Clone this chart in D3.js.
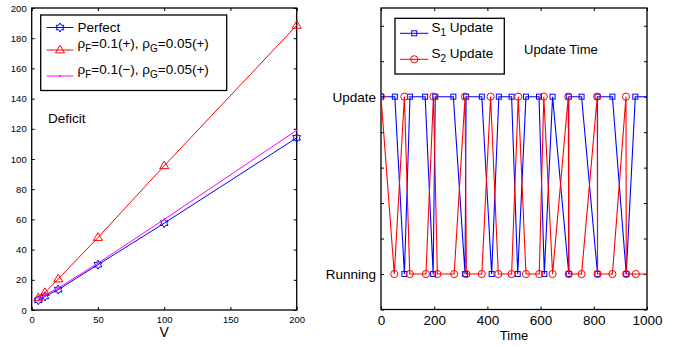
<!DOCTYPE html>
<html><head><meta charset="utf-8">
<script src="https://cdn.jsdelivr.net/npm/d3@7"></script>
<style>body{margin:0;background:#fff}svg{display:block}text{font-family:"Liberation Sans",Arial,Helvetica,sans-serif;fill:#000}</style>
</head><body><svg id="c" width="681" height="347"></svg>
<script>
// ---- Left chart data ----
const V = [5, 10, 20, 50, 100, 200];
const perfect = [6.5, 9, 13.5, 30, 57.5, 114];
const rhoPlus = [8, 11.5, 20.5, 48, 95.5, 188.5];
const rhoMinus = [7, 10, 14.5, 31, 60, 119];
const leftXTicks = [0, 50, 100, 150, 200];
const leftYTicks = [0, 20, 40, 60, 80, 100, 120, 140, 160, 180, 200];

// ---- Right chart data ----
const s1Time  = [0, 52, 88, 109, 166, 196, 204, 272, 316, 320, 379, 416, 443, 491, 514, 545, 594, 614, 645, 706, 706, 754, 814, 814, 870, 922, 956, 1040];
const s1State = [1, 1, 0, 1, 1, 0, 1, 1, 0, 1, 1, 0, 1, 1, 0, 1, 1, 0, 1, 0, 1, 1, 0, 1, 1, 0, 1, 1];
const s2Time  = [0, 50, 88, 108, 169, 197, 212, 275, 316, 321, 379, 412, 441, 491, 516, 545, 595, 612, 645, 704, 706, 754, 813, 814, 870, 921, 922, 958, 1040];
const s2State = [1, 0, 1, 0, 0, 1, 0, 0, 1, 0, 0, 1, 0, 0, 1, 0, 0, 1, 0, 1, 0, 0, 1, 0, 0, 1, 0, 0, 0];
const rightXTicks = [0, 200, 400, 600, 800, 1000];
const rightYTicks = [-0.2, 0, 0.2, 0.4, 0.6, 0.8, 1, 1.2, 1.4];
const stateLabels = {0: "Running", 1: "Update"};

const svg = d3.select("#c");
const BLUE = "#0000ff", RED = "#ff0000", MAG = "#ff00ff";

// hexagram path generator
function hexagram(r) {
  const pts = [];
  for (let i = 0; i < 12; i++) {
    const a = -Math.PI / 2 + i * Math.PI / 6;
    const rr = i % 2 === 0 ? r : r / Math.sqrt(3);
    pts.push([rr * Math.cos(a), rr * Math.sin(a)]);
  }
  return "M" + pts.map(p => p.join(",")).join("L") + "Z";
}
function triangle(r) {
  return `M0,${-r}L${r*0.95},${r*0.6}L${-r*0.95},${r*0.6}Z`;
}

// ================= LEFT =================
const xL = d3.scaleLinear().domain([0, 200]).range([31.7, 296.7]);
const yL = d3.scaleLinear().domain([0, 200]).range([310, 8]);
const gL = svg.append("g");

function boxAxes(g, x, y, xt, yt, fs, xfmt, yfmt, tl) {
  const [x0, x1] = x.range(), [y0, y1] = y.range();
  g.append("g").attr("transform", `translate(0,${y0})`)
    .call(d3.axisBottom(x).tickValues(xt).tickSize(-tl).tickPadding(6).tickFormat(xfmt))
    .call(a => { a.select(".domain").remove(); a.selectAll("text").attr("font-size", fs); });
  g.append("g").attr("transform", `translate(0,${y1})`)
    .call(d3.axisTop(x).tickValues(xt).tickSize(-tl).tickFormat(""))
    .call(a => a.select(".domain").remove());
  g.append("g").attr("transform", `translate(${x0},0)`)
    .call(d3.axisLeft(y).tickValues(yt).tickSize(-tl).tickPadding(5).tickFormat(yfmt))
    .call(a => { a.select(".domain").remove(); a.selectAll("text").attr("font-size", fs); });
  g.append("g").attr("transform", `translate(${x1},0)`)
    .call(d3.axisRight(y).tickValues(yt).tickSize(-tl).tickFormat(""))
    .call(a => a.select(".domain").remove());
  g.selectAll(".tick line").attr("stroke", "#000");
  g.append("rect").attr("x", x0).attr("y", y1).attr("width", x1 - x0).attr("height", y0 - y1)
    .attr("fill", "none").attr("stroke", "#000").attr("stroke-width", 1.3);
}
boxAxes(gL, xL, yL, leftXTicks, leftYTicks, 9.5, d3.format("d"), d3.format("d"), 3);

const lineL = d3.line().x(d => xL(d[0])).y(d => yL(d[1]));
const seriesL = [
  {vals: perfect, color: BLUE, marker: "hex"},
  {vals: rhoPlus, color: RED, marker: "tri"},
  {vals: rhoMinus, color: MAG, marker: "dot"}
];
seriesL.forEach(s => {
  const pts = V.map((v, i) => [v, s.vals[i]]);
  gL.append("path").attr("d", lineL(pts)).attr("fill", "none").attr("stroke", s.color).attr("stroke-width", 1);
  pts.forEach(p => {
    const cx = xL(p[0]), cy = yL(p[1]);
    if (s.marker === "hex") gL.append("path").attr("d", hexagram(4.5)).attr("transform", `translate(${cx},${cy})`).attr("fill", "none").attr("stroke", s.color).attr("stroke-width", 1);
    else if (s.marker === "tri") gL.append("path").attr("d", triangle(4.8)).attr("transform", `translate(${cx},${cy})`).attr("fill", "none").attr("stroke", s.color).attr("stroke-width", 1);
    else gL.append("circle").attr("cx", cx).attr("cy", cy).attr("r", 0.9).attr("fill", s.color);
  });
});

gL.append("text").attr("x", (xL.range()[0] + xL.range()[1]) / 2).attr("y", 337).attr("text-anchor", "middle").attr("font-size", 14).text("V");
gL.append("text").attr("x", 48).attr("y", 123).attr("font-size", 13.5).text("Deficit");

// left legend
const lgL = gL.append("g");
lgL.append("rect").attr("x", 40.7).attr("y", 15).attr("width", 186).attr("height", 75.5).attr("fill", "#fff").attr("stroke", "#000").attr("stroke-width", 1.3);
const legL = [
  {y: 27.5, color: BLUE, marker: "hex", parts: [["Perfect", 0]]},
  {y: 50, color: RED, marker: "tri", parts: [["ρ", 0], ["F", 1], ["=0.1(+), ρ", 0], ["G", 1], ["=0.05(+)", 0]]},
  {y: 76, color: MAG, marker: "dot", parts: [["ρ", 0], ["F", 1], ["=0.1(−), ρ", 0], ["G", 1], ["=0.05(+)", 0]]}
];
legL.forEach(e => {
  lgL.append("line").attr("x1", 46.7).attr("x2", 73.3).attr("y1", e.y).attr("y2", e.y).attr("stroke", e.color).attr("stroke-width", 1);
  if (e.marker === "hex") lgL.append("path").attr("d", hexagram(4.5)).attr("transform", `translate(60,${e.y})`).attr("fill", "none").attr("stroke", e.color);
  else if (e.marker === "tri") lgL.append("path").attr("d", triangle(4.8)).attr("transform", `translate(60,${e.y})`).attr("fill", "none").attr("stroke", e.color);
  else lgL.append("circle").attr("cx", 60).attr("cy", e.y).attr("r", 0.9).attr("fill", e.color);
  const base = e.parts.length > 1 ? e.y - 2 : e.y + 4.5;
  const t = lgL.append("text").attr("x", 77.5).attr("y", base).attr("font-size", 13.5);
  e.parts.forEach(p => {
    const ts = t.append("tspan").text(p[0]);
    if (p[1]) ts.attr("dy", 4).attr("font-size", 10);
    else ts.attr("dy", 0);
  });
  // reset baseline after subscripts
  t.selectAll("tspan").each(function(d, i, n) {
    const el = d3.select(this);
    const prevSub = i > 0 && e.parts[i - 1][1];
    if (!e.parts[i][1] && prevSub) el.attr("dy", -4);
  });
});

// ================= RIGHT =================
const xR = d3.scaleLinear().domain([0, 1000]).range([381, 647]);
const yR = d3.scaleLinear().domain([-0.2, 1.5]).range([309.5, 8]);
const gR = svg.append("g");
boxAxes(gR, xR, yR, rightXTicks, rightYTicks, 13.5, d3.format("d"), d => stateLabels[d] || "", 3);
gR.selectAll("g.tick text").attr("font-size", 13.5);

svg.append("clipPath").attr("id", "clipR").append("rect")
  .attr("x", 381).attr("y", 8).attr("width", 266).attr("height", 301.5);
const dR = gR.append("g").attr("clip-path", "url(#clipR)");
const lineR = d3.line().x(d => xR(d[0])).y(d => yR(d[1]));
const seriesR = [
  {t: s1Time, s: s1State, color: BLUE, marker: "sq"},
  {t: s2Time, s: s2State, color: RED, marker: "ci"}
];
seriesR.forEach(se => {
  const pts = se.t.map((t, i) => [t, se.s[i]]);
  dR.append("path").attr("d", lineR(pts)).attr("fill", "none").attr("stroke", se.color).attr("stroke-width", 1.1);
  pts.filter(p => p[0] <= 1000).forEach(p => {
    const cx = xR(p[0]), cy = yR(p[1]);
    if (se.marker === "sq") dR.append("rect").attr("x", cx - 2.5).attr("y", cy - 2.5).attr("width", 5).attr("height", 5).attr("fill", "none").attr("stroke", se.color).attr("stroke-width", 1);
    else dR.append("circle").attr("cx", cx).attr("cy", cy).attr("r", 3.6).attr("fill", "none").attr("stroke", se.color).attr("stroke-width", 1);
  });
});

gR.append("text").attr("x", (xR.range()[0] + xR.range()[1]) / 2).attr("y", 340).attr("text-anchor", "middle").attr("font-size", 13).text("Time");
gR.append("text").attr("x", 524).attr("y", 54).attr("font-size", 13).text("Update Time");

// right legend
const lgR = gR.append("g");
lgR.append("rect").attr("x", 395).attr("y", 18.3).attr("width", 109.3).attr("height", 55.7).attr("fill", "#fff").attr("stroke", "#000").attr("stroke-width", 1.3);
const legR = [
  {y: 33.3, color: BLUE, marker: "sq", sub: "1"},
  {y: 59.3, color: RED, marker: "ci", sub: "2"}
];
legR.forEach(e => {
  lgR.append("line").attr("x1", 400).attr("x2", 428.3).attr("y1", e.y).attr("y2", e.y).attr("stroke", e.color).attr("stroke-width", 1);
  if (e.marker === "sq") lgR.append("rect").attr("x", 414.2 - 2.5).attr("y", e.y - 2.5).attr("width", 5).attr("height", 5).attr("fill", "none").attr("stroke", e.color);
  else lgR.append("circle").attr("cx", 414.2).attr("cy", e.y).attr("r", 3.6).attr("fill", "none").attr("stroke", e.color);
  const t = lgR.append("text").attr("x", 431.5).attr("y", e.y - 1.5).attr("font-size", 13.5);
  t.append("tspan").text("S");
  t.append("tspan").attr("dy", 4).attr("font-size", 10).text(e.sub);
  t.append("tspan").attr("dy", -4).text(" Update");
});
</script></body></html>
